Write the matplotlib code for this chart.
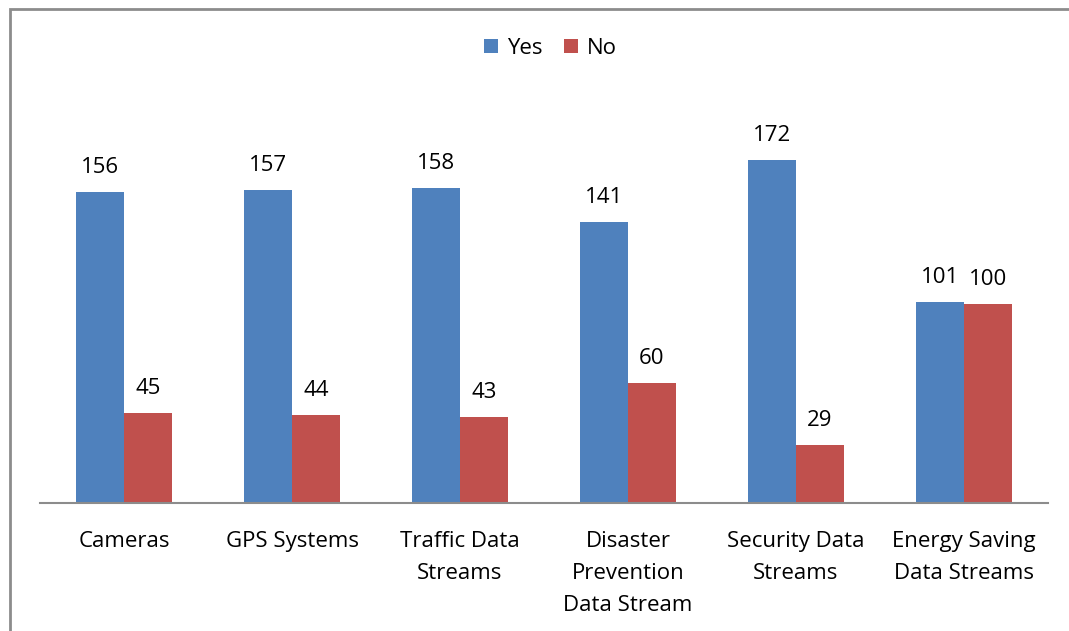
import matplotlib
matplotlib.use('Agg')
import matplotlib.pyplot as plt
from matplotlib.patches import Rectangle
import numpy as np

categories = ['Cameras', 'GPS Systems', 'Traffic Data\nStreams', 'Disaster\nPrevention\nData Stream',
              'Security Data\nStreams', 'Energy Saving\nData Streams']
yes = [156, 157, 158, 141, 172, 101]
no = [45, 44, 43, 60, 29, 100]

plt.rcParams['font.family'] = ['Open Sans', 'DejaVu Sans']

W, H = 1069, 631
fig = plt.figure(figsize=(W / 100, H / 100), dpi=100)

# gray frame around the chart (right and bottom run off the image)
fig.patches.append(Rectangle((10 / W, -0.05), 1.1, 1 - 9 / H + 0.05, transform=fig.transFigure,
                             fill=False, edgecolor='#8c8c8c', linewidth=2))

ax = fig.add_axes([40 / W, (H - 503) / H, 1008 / W, 399 / H])
x = np.arange(len(categories))
w = 48 / 168
b1 = ax.bar(x - w / 2, yes, w, color='#4F81BD', label='Yes')
b2 = ax.bar(x + w / 2, no, w, color='#C0504D', label='No')

for bars in (b1, b2):
    for r in bars:
        ax.annotate(str(int(r.get_height())), (r.get_x() + r.get_width() / 2, r.get_height()),
                    xytext=(0, 10), textcoords='offset points', ha='center', va='bottom', fontsize=16)

ax.set_xlim(-0.5, len(categories) - 0.5)
ax.set_ylim(0, 200)
ax.set_yticks([])
ax.set_xticks(x)
ax.set_xticklabels(categories, fontsize=16, linespacing=1.7, va='top')
ax.tick_params(axis='x', length=0, pad=20)
for s in ['top', 'right', 'left']:
    ax.spines[s].set_visible(False)
ax.spines['bottom'].set_color('#8c8c8c')
ax.spines['bottom'].set_linewidth(1.5)

fig.legend(loc='center', bbox_to_anchor=(0.515, 1 - 48 / H), ncol=2, frameon=False, fontsize=16,
           handlelength=0.6, handleheight=0.6, handletextpad=0.4, columnspacing=1.0)

fig.savefig('out.png', dpi=100)
